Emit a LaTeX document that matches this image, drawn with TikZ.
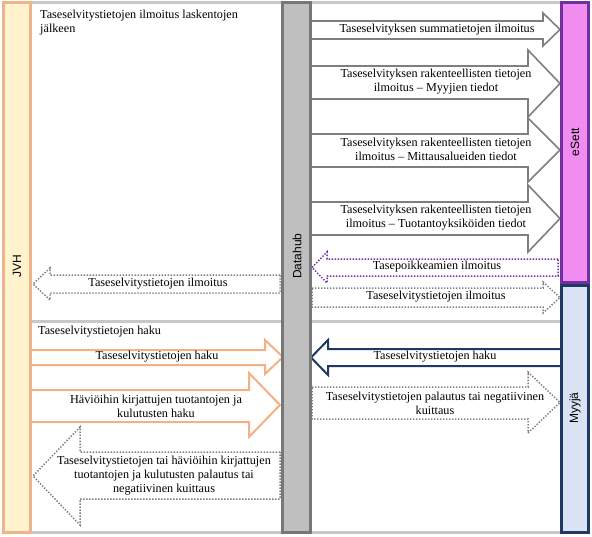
\documentclass[tikz,border=0pt]{standalone}
\usepackage{fontspec}
\setmainfont{Liberation Serif}
\setsansfont{Liberation Sans}
\definecolor{jvhfill}{HTML}{FFF2CC}
\definecolor{jvhline}{HTML}{EDB58E}
\definecolor{peach}{HTML}{F4B183}
\definecolor{dhfill}{HTML}{BFBFBF}
\definecolor{dhline}{HTML}{777777}
\definecolor{esfill}{HTML}{F18CF1}
\definecolor{esline}{HTML}{7030A0}
\definecolor{myfill}{HTML}{DAE3F3}
\definecolor{myline}{HTML}{203864}
\definecolor{sep}{HTML}{C8C8C8}
\definecolor{arrgray}{HTML}{7F7F7F}
\newcommand\blockarrow[8]{%
  \draw[#1] (#2,#5) -- (#3,#5) -- (#3,#7) -- (#4,{(#7+#8)/2}) -- (#3,#8) -- (#3,#6) -- (#2,#6) -- cycle;}
\begin{document}
\begin{tikzpicture}[x=1pt,y=-1pt,
  lbl/.style={font=\fontsize{12.2}{14}\selectfont, align=center, inner sep=0pt},
  title/.style={font=\fontsize{12.2}{13.5}\selectfont, align=left, anchor=north west, inner sep=0pt},
  barlbl/.style={font=\sffamily\fontsize{12}{14}\selectfont, rotate=90, inner sep=0pt},
  bar/.style={line width=3pt},
  solidgray/.style={draw=arrgray, line width=1.6pt, fill=white, line join=miter},
  dotgray/.style={draw=arrgray, line width=1.5pt, dash pattern=on 1.4pt off 1.6pt, fill=white},
  dotpurple/.style={draw=esline, line width=1.5pt, dash pattern=on 1.4pt off 1.6pt, fill=white},
  peacharr/.style={draw=peach, line width=2pt, fill=white},
  navyarr/.style={draw=myline, line width=2pt, fill=white},
  sepline/.style={draw=sep, line width=3pt}]
\useasboundingbox (0,0) rectangle (592,536);
% separator lines
\draw[sepline] (31,2) -- (561,2);
\draw[sepline] (31,532) -- (561,532);
\draw[sepline] (31,321) -- (561,321);
% titles
\node[title] (t1) at (40,10) {Taseselvitystietojen ilmoitus laskentojen\\jälkeen};
\node[title] (t2) at (38,326) {Taseselvitystietojen haku};
% right side arrows to eSett
\blockarrow{solidgray}{310}{543}{560}{21}{39}{13}{46}
\node[lbl] (a1) at (437,30) {Taseselvityksen summatietojen ilmoitus};
\blockarrow{solidgray}{310}{528}{560}{66}{99}{50}{117}
\node[lbl] (a2) at (436,82) {Taseselvityksen rakenteellisten tietojen\\ilmoitus -- Myyjien tiedot};
\blockarrow{solidgray}{310}{528}{560}{134}{167}{118}{182}
\node[lbl] (a3) at (436,149) {Taseselvityksen rakenteellisten tietojen\\ilmoitus -- Mittausalueiden tiedot};
\blockarrow{solidgray}{310}{528}{560}{202}{235}{185}{252}
\node[lbl] (a4) at (436,218) {Taseselvityksen rakenteellisten tietojen\\ilmoitus -- Tuotantoyksiköiden tiedot};
\blockarrow{dotpurple}{558}{327}{312}{259}{276}{252}{283}
\node[lbl] (a5) at (437,267) {Tasepoikkeamien ilmoitus};
\blockarrow{dotgray}{312}{543}{560}{288}{307}{282}{313}
\node[lbl] (a6) at (436,297) {Taseselvitystietojen ilmoitus};
% left side
\blockarrow{dotgray}{280}{50}{33}{275}{293}{268}{300}
\node[lbl] (a7) at (158,284) {Taseselvitystietojen ilmoitus};
\blockarrow{peacharr}{30}{265}{283}{350}{365}{340}{374}
\node[lbl] (a8) at (157,357) {Taseselvitystietojen haku};
\blockarrow{peacharr}{30}{249}{280}{390}{422}{373}{437}
\node[lbl] (a9) at (156,406) {Häviöihin kirjattujen tuotantojen ja\\kulutusten haku};
\blockarrow{dotgray}{280}{80}{33}{452}{499}{427}{525}
\node[lbl] (a10) at (164,476) {Taseselvitystietojen tai häviöihin kirjattujen\\tuotantojen ja kulutusten palautus tai\\negatiivinen kuittaus};
% right side lower
\blockarrow{navyarr}{562}{328}{311}{349}{366}{340}{375}
\node[lbl] (a11) at (435,357) {Taseselvitystietojen haku};
\blockarrow{dotgray}{312}{528}{560}{387}{419}{372}{433}
\node[lbl] (a12) at (435,403) {Taseselvitystietojen palautus tai negatiivinen\\kuittaus};
% bars
\draw[bar, draw=jvhline, fill=jvhfill] (3.5,2) rectangle (30.5,532);
\node[barlbl] (jvh) at (17,266) {JVH};
\draw[bar, draw=dhline, fill=dhfill] (282,2) rectangle (310,532);
\node[barlbl] (dh) at (297,256) {Datahub};
\draw[bar, draw=myline, fill=myfill] (561.5,285) rectangle (588.5,532);
\draw[bar, draw=esline, fill=esfill] (561.5,2) rectangle (588.5,282);
\node[barlbl] (es) at (575,142) {eSett};
\node[barlbl] (my) at (575,408) {Myyjä};
\end{tikzpicture}
\end{document}
